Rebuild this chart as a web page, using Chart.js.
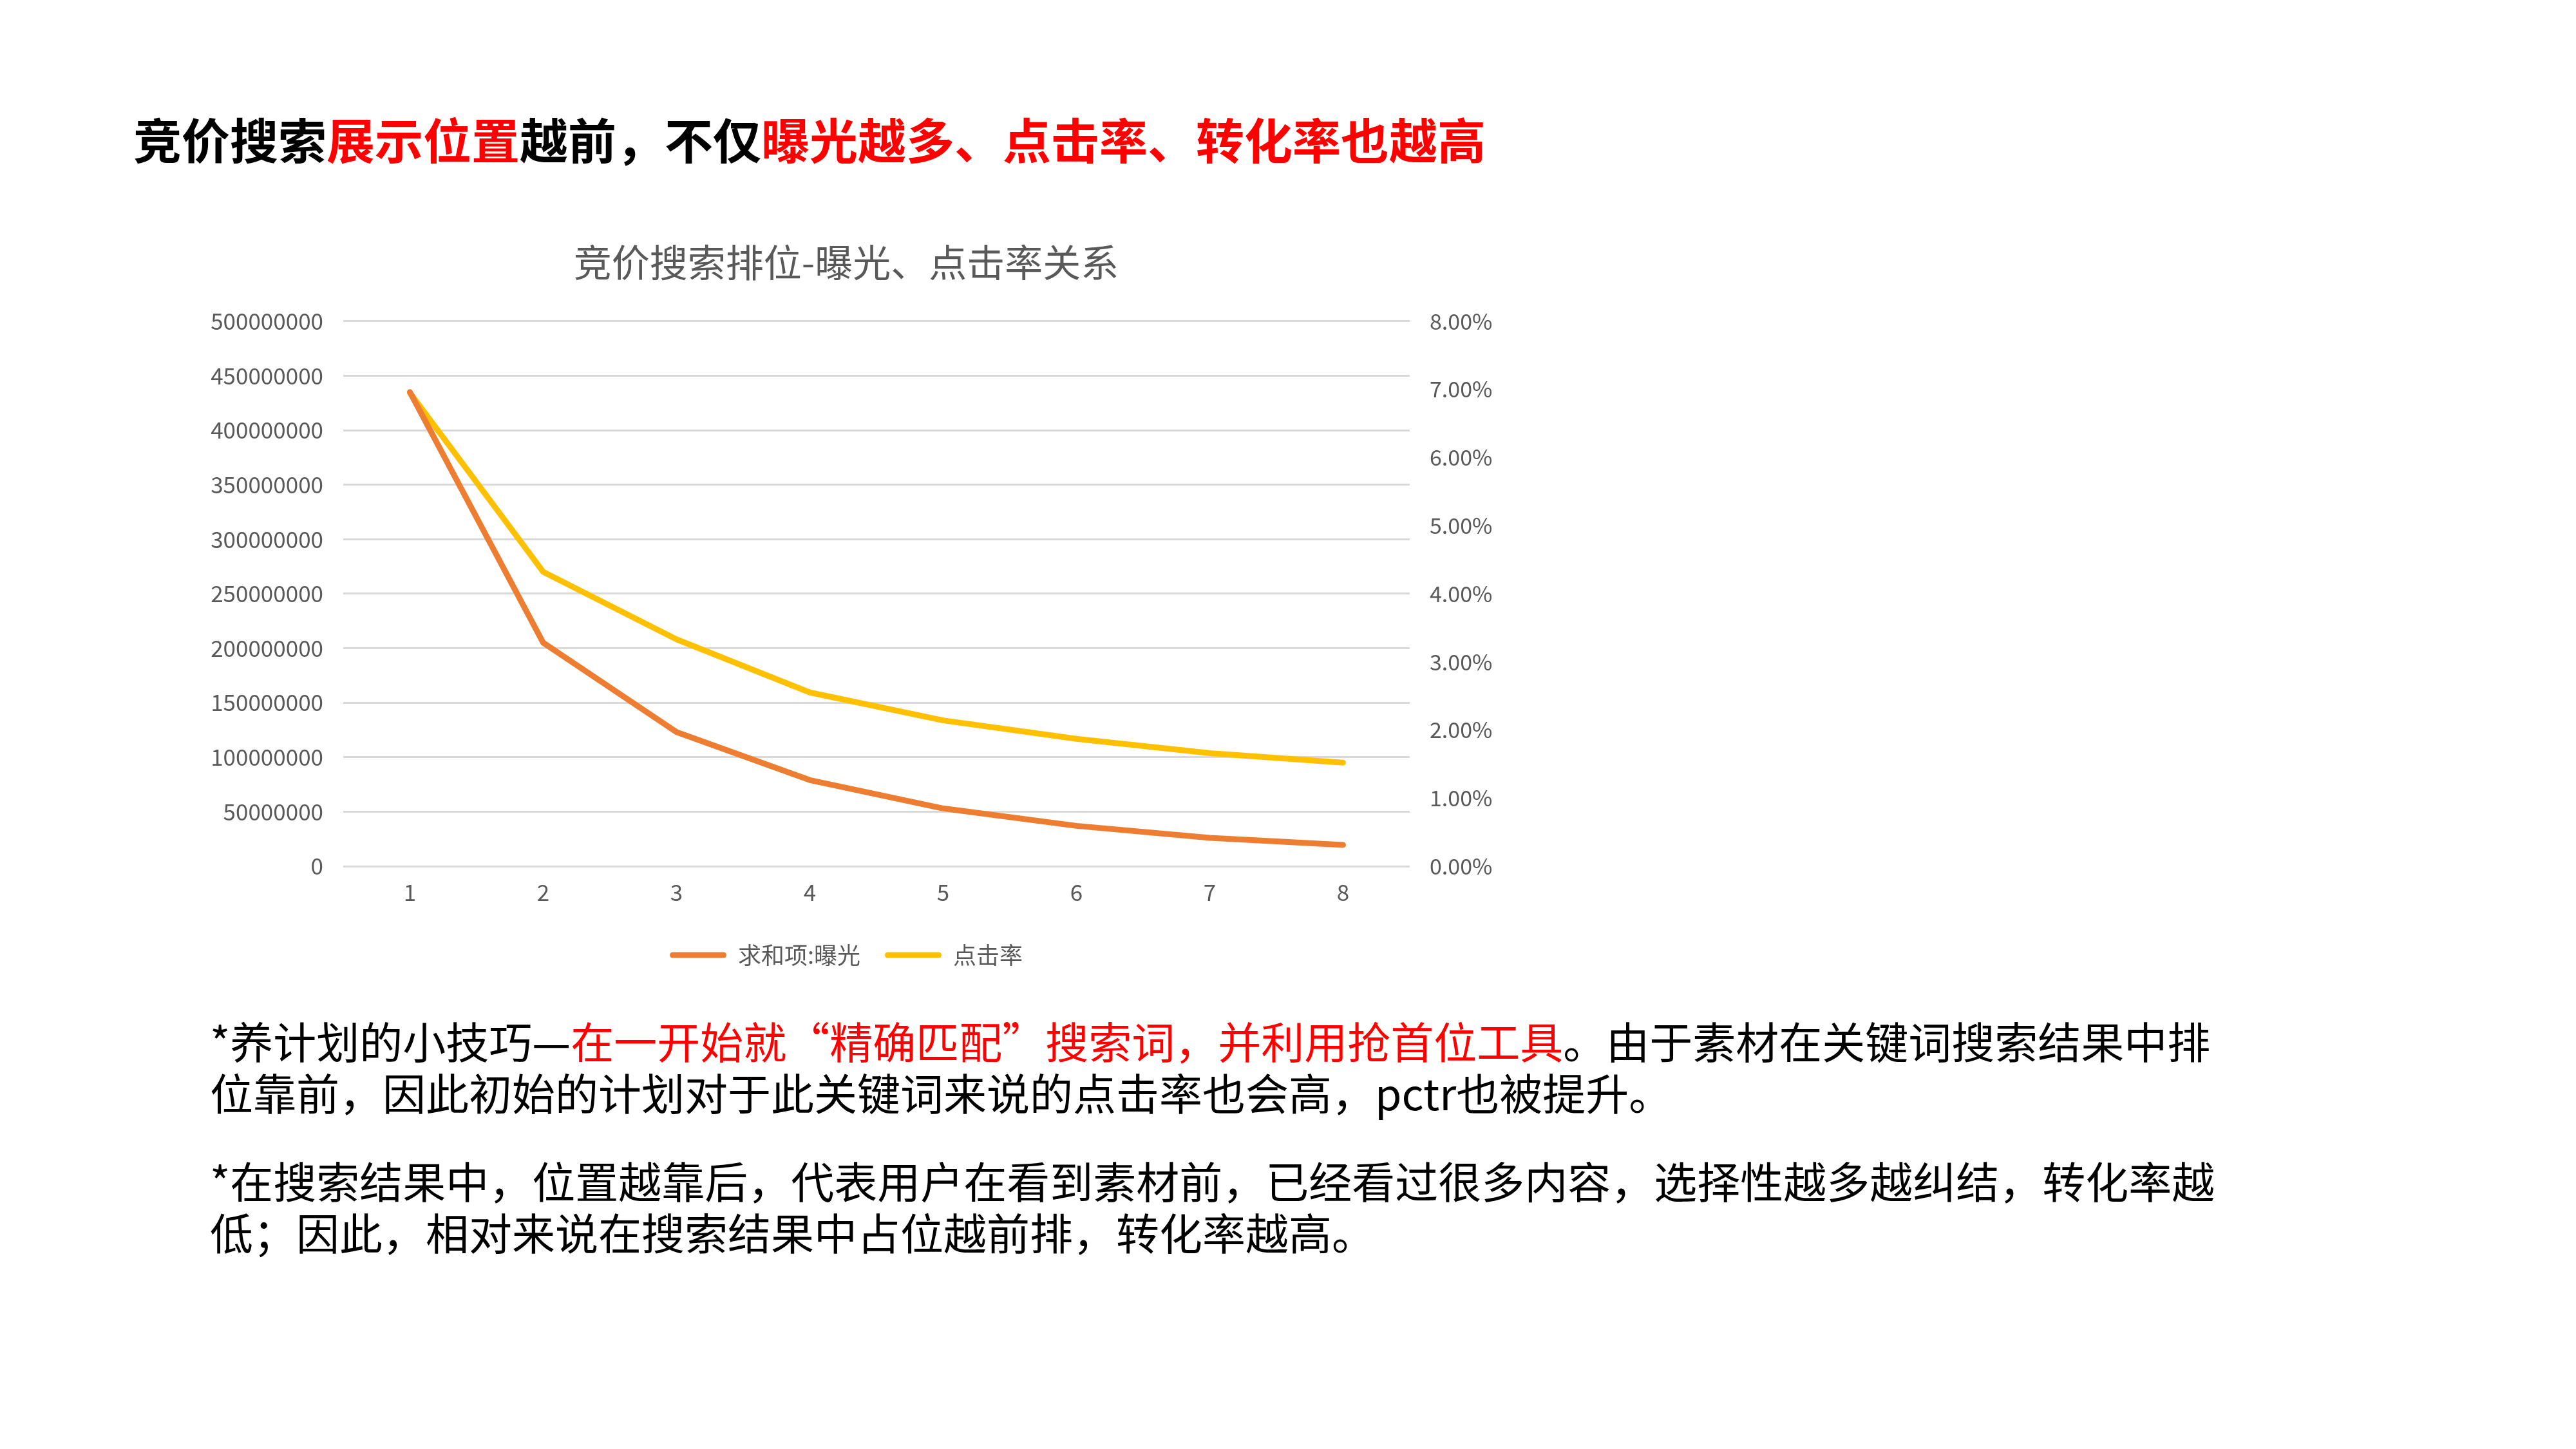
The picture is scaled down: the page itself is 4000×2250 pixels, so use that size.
<!DOCTYPE html>
<html>
<head>
<meta charset="utf-8">
<script src="https://cdn.jsdelivr.net/npm/chart.js@4.4.1/dist/chart.umd.min.js"></script>
<style>
  html, body { margin: 0; padding: 0; background: #fff; }
  body { width: 4000px; height: 2250px; position: relative; overflow: hidden;
         font-family: "Noto Sans CJK SC", sans-serif; }
  .red { color: #ff0000; }
  #heading { position: absolute; left: 207px; top: 177px; font-size: 75px; line-height: 76px;
             font-weight: 700; color: #000; white-space: nowrap; }
  .note { position: absolute; left: 326px; font-size: 67px; line-height: 80px; color: #000;
          white-space: nowrap; }
  #note1 { top: 1575px; }
  #note2 { top: 1792px; }
  #chartBox { position: absolute; left: 280px; top: 340px; width: 2068px; height: 1171px; }
</style>
</head>
<body>
<div id="heading">竞价搜索<span class="red">展示位置</span>越前，不仅<span class="red">曝光越多、点击率、转化率也越高</span></div>

<div id="chartBox"><canvas id="rankChart" width="2068" height="1171"></canvas></div>

<div class="note" id="note1">*养计划的小技巧—<span class="red">在一开始就“精确匹配”搜索词，并利用抢首位工具</span>。由于素材在关键词搜索结果中排<br>位靠前，因此初始的计划对于此关键词来说的点击率也会高，pctr也被提升。</div>
<div class="note" id="note2">*在搜索结果中，位置越靠后，代表用户在看到素材前，已经看过很多内容，选择性越多越纠结，转化率越<br>低；因此，相对来说在搜索结果中占位越前排，转化率越高。</div>

<script>
// 排位
const positions = ['1', '2', '3', '4', '5', '6', '7', '8'];
// 求和项:曝光
const exposure = [435000000, 205000000, 123000000, 79000000, 53000000, 37000000, 26000000, 19500000];
// 点击率 (%)
const ctr = [6.95, 4.32, 3.33, 2.55, 2.14, 1.87, 1.66, 1.52];

Chart.defaults.font.family = '"Noto Sans CJK SC", sans-serif';
Chart.defaults.color = '#595959';

const ctx = document.getElementById('rankChart').getContext('2d');
const rankChart = new Chart(ctx, {
    type: 'line',
    data: {
        labels: positions,
        datasets: [{
            label: '求和项:曝光',
            data: exposure,
            yAxisID: 'y',
            borderColor: '#ED7D31',
            backgroundColor: '#ED7D31',
            borderWidth: 9,
            borderCapStyle: 'round',
            borderJoinStyle: 'round',
            pointRadius: 0,
            tension: 0
        }, {
            label: '点击率',
            data: ctr,
            yAxisID: 'y1',
            borderColor: '#FFC000',
            backgroundColor: '#FFC000',
            borderWidth: 9,
            borderCapStyle: 'round',
            borderJoinStyle: 'round',
            pointRadius: 0,
            tension: 0
        }]
    },
    options: {
        responsive: false,
        animation: false,
        layout: { padding: 0 },
        plugins: {
            title: {
                display: true,
                text: '竞价搜索排位-曝光、点击率关系',
                color: '#595959',
                font: { size: 59, weight: 'normal', lineHeight: 1.2 },
                padding: { top: 32, bottom: 56 }
            },
            legend: {
                position: 'bottom',
                labels: {
                    boxWidth: 88,
                    boxHeight: 9,
                    useBorderRadius: true,
                    borderRadius: 4.5,
                    padding: 38,
                    color: '#595959',
                    font: { size: 36 },
                    generateLabels: chart =>
                        Chart.defaults.plugins.legend.labels.generateLabels(chart)
                            .map(item => ({ ...item, lineWidth: 0, fillStyle: item.strokeStyle }))
                }
            },
            tooltip: { enabled: false }
        },
        scales: {
            x: {
                offset: true,
                grid: { display: false, drawTicks: false },
                border: { display: false },
                ticks: { padding: 20, font: { size: 35 }, color: '#595959' }
            },
            y: {
                position: 'left',
                min: 0,
                max: 500000000,
                grid: { color: '#D9D9D9', lineWidth: 3, drawTicks: false },
                border: { display: false },
                ticks: {
                    stepSize: 50000000,
                    padding: 31,
                    font: { size: 35 },
                    color: '#595959',
                    callback: v => String(v)
                },
                afterFit: scale => { scale.width = 253; }
            },
            y1: {
                position: 'right',
                min: 0,
                max: 8,
                grid: { display: false, drawTicks: false },
                border: { display: false },
                ticks: {
                    stepSize: 1,
                    padding: 31,
                    font: { size: 34 },
                    color: '#595959',
                    callback: v => v.toFixed(2) + '%'
                },
                afterFit: scale => { scale.width = 159; }
            }
        }
    }
});
</script>
</body>
</html>
